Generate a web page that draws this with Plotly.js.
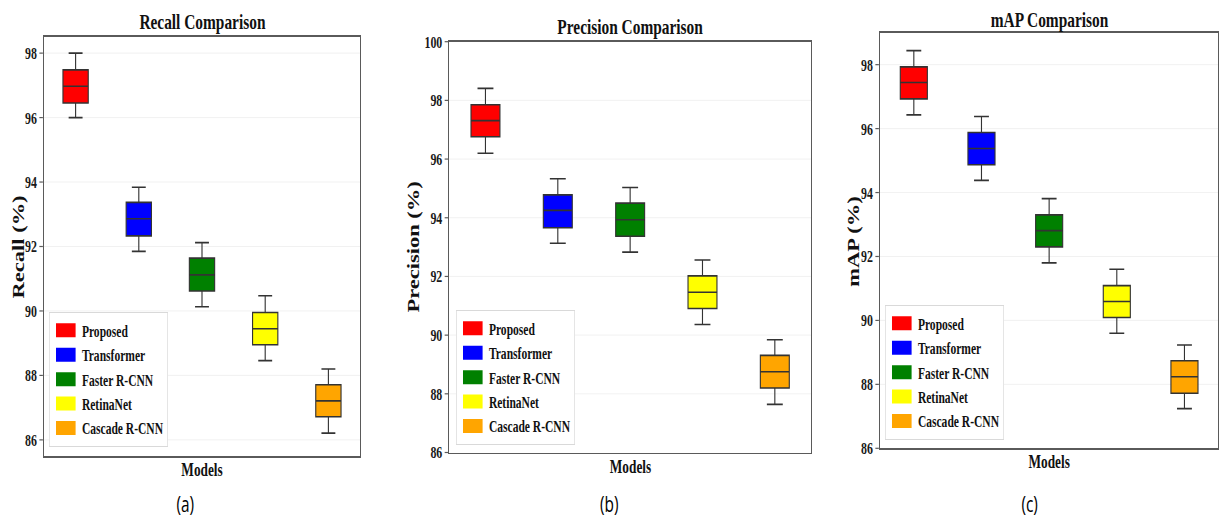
<!DOCTYPE html>
<html>
<head>
<meta charset="utf-8">
<script src="https://cdn.plot.ly/plotly-3.0.1.min.js"></script>
<style>
  html, body { margin: 0; padding: 0; overflow: hidden; background: #fff; }
  #chart { width: 1744px; height: 521px; transform: scaleX(0.70011); transform-origin: 0 0; }
</style>
</head>
<body>
<div id="chart"></div>
<script>
// ---- data ----
const models = ['Proposed', 'Transformer', 'Faster R-CNN', 'RetinaNet', 'Cascade R-CNN'];
const colors = ['#ff0000', '#0000ff', '#008000', '#ffff00', '#ffa500'];

const recallMin = [96.00, 91.85, 90.13, 88.46, 86.21];
const recallQ1  = [96.45, 92.33, 90.62, 88.95, 86.72];
const recallMed = [96.97, 92.86, 91.12, 89.45, 87.21];
const recallQ3  = [97.48, 93.37, 91.64, 89.95, 87.71];
const recallMax = [98.00, 93.84, 92.12, 90.47, 88.20];

const precMin = [96.20, 93.13, 92.83, 90.36, 87.64];
const precQ1  = [96.76, 93.66, 93.37, 90.91, 88.20];
const precMed = [97.31, 94.25, 93.93, 91.46, 88.75];
const precQ3  = [97.85, 94.78, 94.50, 92.02, 89.31];
const precMax = [98.41, 95.33, 95.03, 92.56, 89.84];

const mapMin = [96.43, 94.38, 91.80, 89.60, 87.24];
const mapQ1  = [96.93, 94.87, 92.30, 90.09, 87.72];
const mapMed = [97.44, 95.38, 92.81, 90.59, 88.24];
const mapQ3  = [97.93, 95.88, 93.30, 91.09, 88.74];
const mapMax = [98.44, 96.38, 93.81, 91.60, 89.23];

const recallTicks = [86, 88, 90, 92, 94, 96, 98];
const precTicks   = [86, 88, 90, 92, 94, 96, 98, 100];
const mapTicks    = [86, 88, 90, 92, 94, 96, 98];

const panelTitles = ['Recall Comparison', 'Precision Comparison', 'mAP Comparison'];
const yTitles = ['Recall (%)', 'Precision (%)', 'mAP (%)'];
const subLabels = ['(a)', '(b)', '(c)'];

// ---- build ----
const serif = 'Liberation Serif, Times New Roman, serif';
const W = 1221, H = 521;
const px = v => v / W;
const py = v => 1 - v / H;

const panels = [
  {stats: [recallMin, recallQ1, recallMed, recallQ3, recallMax], ticks: recallTicks, range: [85.5, 98.5],
   xd: [44, 360], yd: [37, 456], leg: [49, 447], yt: [18.5, 247], mt: 469, tt: 22, sub: 185},
  {stats: [precMin, precQ1, precMed, precQ3, precMax], ticks: precTicks, range: [86, 100],
   xd: [449.3, 811], yd: [41.7, 452.5], leg: [456, 445], yt: [413.5, 247], mt: 466.5, tt: 26, sub: 609},
  {stats: [mapMin, mapQ1, mapMed, mapQ3, mapMax], ticks: mapTicks, range: [86, 99],
   xd: [880, 1218.3], yd: [32.7, 448.3], leg: [885, 440], yt: [854, 241], mt: 461.5, tt: 19, sub: 1030}
];

const traces = [];
const layout = {
  width: 1744, height: 521,
  margin: {l: 0, r: 0, t: 0, b: 0},
  paper_bgcolor: '#fff', plot_bgcolor: '#fff',
  showlegend: true,
  boxmode: 'overlay',
  annotations: []
};

panels.forEach((p, i) => {
  const n = i + 1;
  const xa = n === 1 ? 'x' : 'x' + n;
  const ya = n === 1 ? 'y' : 'y' + n;
  const lg = n === 1 ? 'legend' : 'legend' + n;
  models.forEach((m, k) => {
    traces.push({
      type: 'box', name: m, x: [m],
      lowerfence: [p.stats[0][k]], q1: [p.stats[1][k]], median: [p.stats[2][k]],
      q3: [p.stats[3][k]], upperfence: [p.stats[4][k]],
      xaxis: xa, yaxis: ya, legend: lg,
      fillcolor: colors[k],
      line: {color: '#333', width: 1.6},
      width: 0.4, whiskerwidth: 0.55,
      boxpoints: false, hoverinfo: 'skip'
    });
  });
  const axFrame = {showline: true, mirror: true, linecolor: '#5a5a5a', linewidth: 1.6};
  layout['xaxis' + (n === 1 ? '' : n)] = Object.assign({
    domain: [px(p.xd[0]), px(p.xd[1])], anchor: ya,
    type: 'category', categoryorder: 'array', categoryarray: models,
    range: [-0.5, 4.5], showticklabels: false, ticks: '', showgrid: false, zeroline: false, fixedrange: true
  }, axFrame);
  layout['yaxis' + (n === 1 ? '' : n)] = Object.assign({
    domain: [py(p.yd[1]), py(p.yd[0])], anchor: xa,
    range: p.range, tickvals: p.ticks, ticktext: p.ticks.map(String),
    ticks: 'outside', ticklen: 5, tickwidth: 1.2, tickcolor: '#5a5a5a',
    showgrid: true, gridcolor: '#efefef', gridwidth: 1, zeroline: false,
    tickfont: {family: serif, size: 17, weight: 'bold', color: '#1a1a1a'},
    fixedrange: true
  }, axFrame);
  layout[lg] = {
    x: px(p.leg[0]), y: py(p.leg[1]), xanchor: 'left', yanchor: 'bottom',
    xref: 'paper', yref: 'paper',
    bgcolor: '#fff', bordercolor: '#d9d9d9', borderwidth: 1,
    font: {family: serif, size: 16.5, weight: 'bold', color: '#111'},
    itemwidth: 36, tracegroupgap: 0
  };
  const cx = (p.xd[0] + p.xd[1]) / 2;
  layout.annotations.push(
    {text: panelTitles[i], xref: 'paper', yref: 'paper', x: px(cx), y: py(p.tt),
     xanchor: 'center', yanchor: 'middle', showarrow: false,
     font: {family: serif, size: 22, weight: 'bold', color: '#111'}},
    {text: yTitles[i], xref: 'paper', yref: 'paper', x: px(p.yt[0]), y: py(p.yt[1]),
     xanchor: 'center', yanchor: 'middle', showarrow: false, textangle: -90,
     font: {family: serif, size: 22.5, weight: 'bold', color: '#111'}},
    {text: 'Models', xref: 'paper', yref: 'paper', x: px(cx), y: py(p.mt),
     xanchor: 'center', yanchor: 'middle', showarrow: false,
     font: {family: serif, size: 19, weight: 'bold', color: '#111'}},
    {text: subLabels[i], xref: 'paper', yref: 'paper', x: px(p.sub), y: py(503),
     xanchor: 'center', yanchor: 'middle', showarrow: false,
     font: {family: 'Open Sans, Noto Sans, sans-serif', size: 22, color: '#000'}}
  );
});

Plotly.newPlot('chart', traces, layout, {displayModeBar: false, staticPlot: true}).then(gd => {
  // enlarge legend colour patches (all three legends) to the wide rectangles of the reference
  gd.querySelectorAll('.legendpoints path').forEach(p => {
    p.setAttribute('d', 'M14,7H-14V-7H14Z');
    p.style.strokeWidth = '0';
  });
});
</script>
</body>
</html>
